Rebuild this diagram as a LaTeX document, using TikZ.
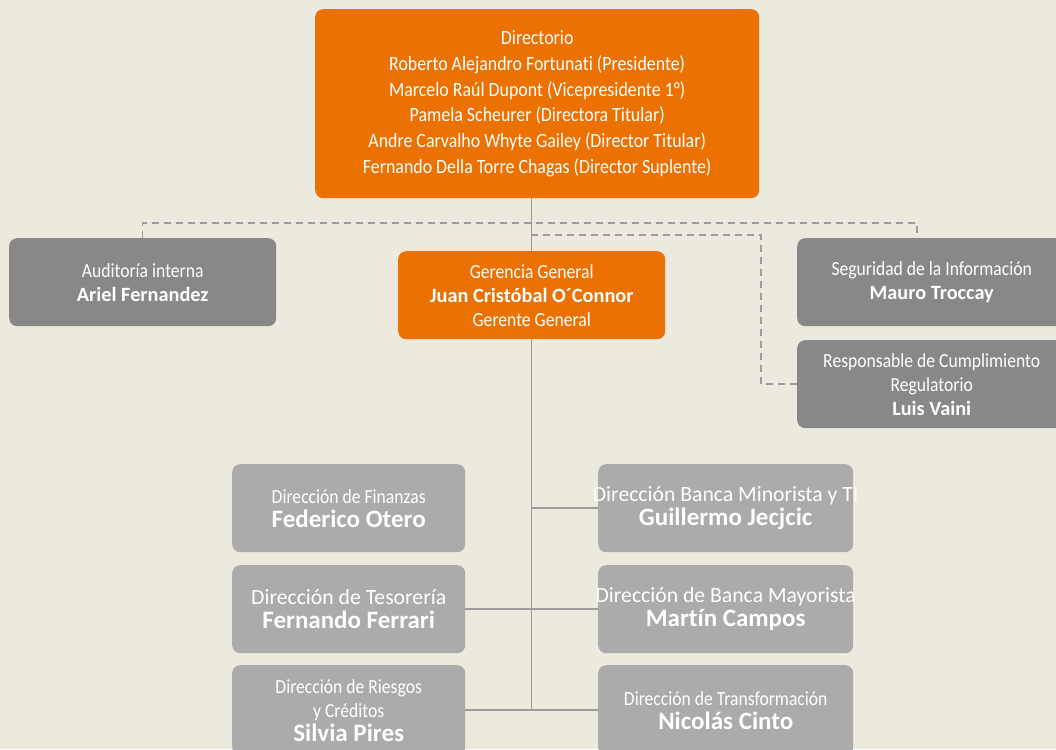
\documentclass[tikz,border=0pt]{standalone}
\usepackage{fontspec}
\setmainfont{Carlito}[Ligatures=NoCommon]
\newfontfamily\narrowfont{Carlito}[FakeStretch=0.88, Ligatures=NoCommon]
\usetikzlibrary{positioning}

\definecolor{bgbeige}{HTML}{ECE9DF}
\definecolor{boardorange}{HTML}{EC7103}
\definecolor{staffgrey}{HTML}{888888}
\definecolor{unitgrey}{HTML}{ABABAB}
\definecolor{linegrey}{HTML}{9C9C9C}

\newcommand{\pname}[1]{{\rmfamily\fontsize{20.3}{24}\selectfont\bfseries #1}}
\newcommand{\uname}[1]{{\rmfamily\fontsize{25}{24}\selectfont\bfseries #1}}

\tikzset{
  orgbox/.style={rounded corners=8pt, text=white, align=center, anchor=north west, inner sep=0pt},
  boardbox/.style={orgbox, fill=boardorange},
  staffbox/.style={orgbox, fill=staffgrey},
  unitbox/.style={orgbox, fill=unitgrey, minimum height=88pt},
  narrowtxt/.style={font=\narrowfont\fontsize{20}{24}\selectfont},
  widetxt/.style={font=\fontsize{21.7}{24}\selectfont, inner xsep=-15pt},
  solidline/.style={draw=linegrey, line width=1.5pt},
  dashline/.style={draw=linegrey, line width=1.5pt, dash pattern=on 7pt off 5pt},
}

\begin{document}
\begin{tikzpicture}[x=1pt,y=-1pt]
    \useasboundingbox (0,0) rectangle (1056,749);
    \clip (0,0) rectangle (1056,749);
    \fill[bgbeige] (0,0) rectangle (1056,749);

    % board and general management
    \node[boardbox, minimum width=444pt, minimum height=189pt, font=\narrowfont\fontsize{20.3}{25.8}\selectfont] (dir) at (315,9)
        {Directorio\\ Roberto Alejandro Fortunati (Presidente)\\ Marcelo Raúl Dupont (Vicepresidente 1°)\\
         Pamela Scheurer (Directora Titular)\\ Andre Carvalho Whyte Gailey (Director Titular)\\
         Fernando Della Torre Chagas (Director Suplente)};
    \node[boardbox, minimum width=267pt, minimum height=88pt, narrowtxt] (gg) at (398,251)
        {Gerencia General\\ \pname{Juan Cristóbal O´Connor}\\ Gerente General};

    % staff units
    \node[staffbox, minimum width=267pt, minimum height=88pt, narrowtxt] (aud) at (9,238)
        {Auditoría interna\\ \pname{Ariel Fernandez}};
    \node[staffbox, minimum width=269pt, minimum height=88pt, narrowtxt] (seg) at (797,238)
        {Seguridad de la Información\\ \pname{Mauro Troccay}};
    \node[staffbox, minimum width=269pt, minimum height=88pt, narrowtxt] (resp) at (797,340)
        {Responsable de Cumplimiento\\ Regulatorio\\ \pname{Luis Vaini}};

    % directions
    \node[unitbox, minimum width=233pt, narrowtxt] (fin) at (232,464)
        {Dirección de Finanzas\\ \uname{Federico Otero}};
    \node[unitbox, minimum width=233pt, widetxt] (tes) at (232,565)
        {Dirección de Tesorería\\ \uname{Fernando Ferrari}};
    \node[unitbox, minimum width=233pt, minimum height=90pt, narrowtxt] (rie) at (232,665)
        {Dirección de Riesgos\\ y Créditos\\ \uname{Silvia Pires}};
    \node[unitbox, minimum width=255pt, widetxt] (min) at (598,464)
        {Dirección Banca Minorista y TI\\ \uname{Guillermo Jecjcic}};
    \node[unitbox, minimum width=255pt, widetxt] (may) at (598,565)
        {Dirección de Banca Mayorista\\ \uname{Martín Campos}};
    \node[unitbox, minimum width=255pt, minimum height=90pt, narrowtxt] (tra) at (598,665)
        {Dirección de Transformación\\ \uname{Nicolás Cinto}};

    % solid reporting lines
    \draw[solidline] (dir.south -| gg.north) -- (gg.north);
    \draw[solidline] (gg.south) -- (gg.south |- tra.west);
    \draw[solidline] (gg.south |- min.west) -- (min.west);
    \draw[solidline] (tes.east) -- (may.west);
    \draw[solidline] (rie.east) -- (tra.west);

    % dashed staff lines
    \coordinate (bus) at (531,223);
    \coordinate (segtop) at (917,238);
    \coordinate (tap) at (531,235);
    \coordinate (elbow) at (761,235);
    \draw[dashline] (aud.north) |- (bus) -| (segtop);
    \draw[dashline] (tap) -- (elbow) |- (resp.west);
\end{tikzpicture}
\end{document}
